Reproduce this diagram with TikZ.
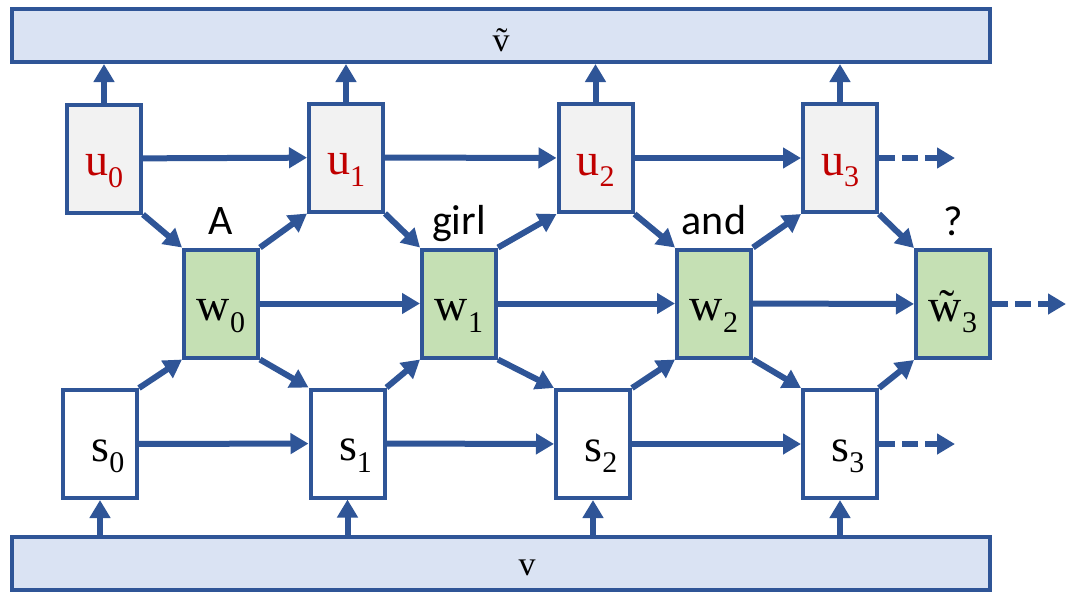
\documentclass[tikz,border=0pt]{standalone}
\usepackage{fontspec}
\setmainfont{Liberation Serif}
\newfontfamily\wordfont{Carlito}
\usetikzlibrary{arrows.meta, positioning}
\newlength{\w}
\setlength{\w}{37pt}
\newlength{\h}
\setlength{\h}{54pt}
\definecolor{linecolor}{RGB}{47,85,151}
\definecolor{barcolor}{RGB}{218,227,243}
\definecolor{ucolor}{RGB}{242,242,242}
\definecolor{wcolor}{RGB}{197,224,180}
\definecolor{ulabelcolor}{RGB}{192,0,0}
\newcommand{\lbl}[2]{#1\raisebox{-0.25em}{\fontsize{15}{15}\selectfont #2}}
\tikzset{bar/.style={draw=linecolor, fill=barcolor, line width=2pt, minimum width=489pt, minimum height=26.5pt}}
\tikzset{barlabel/.style={font=\fontsize{17}{19}\selectfont, inner sep=0pt}}
\tikzset{box/.style={draw=linecolor, line width=2pt, minimum width=\w, minimum height=\h, text height=19pt, text depth=2pt, inner sep=0pt, font=\fontsize{23}{26}\selectfont}}
\tikzset{ubox/.style={box, fill=ucolor, text=ulabelcolor}}
\tikzset{wbox/.style={box, fill=wcolor}}
\tikzset{sbox/.style={box, fill=white, execute at begin node={\hspace*{8pt}}}}
\tikzset{word/.style={font=\wordfont\fontsize{21}{24}\selectfont, text height=1.4ex, text depth=.25ex, inner sep=2pt}}
\tikzset{flow/.style={draw=linecolor, line width=3pt, -{Triangle[length=9pt,width=10pt]}}}
\tikzset{flowdash/.style={flow, dash pattern=on 8pt off 3.5pt}}

\begin{document}
\begin{tikzpicture}[x=0.5pt, y=-0.5pt]
	\useasboundingbox (0,0) rectangle (1067,591);
	
	%%% NODES %%%
	
	% BARS
	\node[bar] at (501,35.5) (vtop) {};
	\node[barlabel] at (501,40) (vtoplabel) {\~{v}};
	\node[bar] at (501,563.5) (vbot) {};
	\node[barlabel] at (527,568) (vbotlabel) {v};
	
	% TOP ROW
	\node[ubox] at (104,158.5) (u0) {\lbl{u}{0}};
	\node[ubox] at (346,157.5) (u1) {\lbl{u}{1}};
	\node[ubox] at (595.5,158) (u2) {\lbl{u}{2}};
	\node[ubox] at (840,158) (u3) {\lbl{u}{3}};
	
	% WORDS
	\node[wbox] at (221,303.5) (w0) {\lbl{w}{0}};
	\node[wbox] at (459,303.5) (w1) {\lbl{w}{1}};
	\node[wbox] at (714,303.5) (w2) {\lbl{w}{2}};
	\node[wbox] at (953,304) (w3) {\lbl{\~{w}}{3}};
	
	\node[word, above=3pt of w0] (word0) {A};
	\node[word, above=3pt of w1] (word1) {girl};
	\node[word, above=3pt of w2] (word2) {and};
	\node[word, above=3pt of w3] (word3) {?};
	
	% BOTTOM ROW
	\node[sbox] at (100,444) (s0) {\lbl{s}{0}};
	\node[sbox] at (347.5,443.5) (s1) {\lbl{s}{1}};
	\node[sbox] at (593,444) (s2) {\lbl{s}{2}};
	\node[sbox] at (840,444) (s3) {\lbl{s}{3}};
	
	%%% EXTRA ARROW NODES %%%
	\node[coordinate, right=38pt of u3] (e0) {};
	\node[coordinate, right=37pt of w3] (e1) {};
	\node[coordinate, right=38pt of s3] (e2) {};
	
	%%% ARROWS %%%
	
	% UP INTO V TILDE
	\foreach \i in {0,...,3}
		\draw[flow] (u\i) -- (u\i |- vtop.south);
	
	% UP FROM V
	\foreach \i in {0,...,3}
		\draw[flow] (vbot.north -| s\i) -- (s\i);
	
	% ALONG THE ROWS
	\draw[flow] (u0) -- (u1);
	\draw[flow] (u1) -- (u2);
	\draw[flow] (u2) -- (u3);
	\draw[flow] (w0) -- (w1);
	\draw[flow] (w1) -- (w2);
	\draw[flow] (w2) -- (w3);
	\draw[flow] (s0) -- (s1);
	\draw[flow] (s1) -- (s2);
	\draw[flow] (s2) -- (s3);
	
	% DIAGONALS
	\draw[flow] (u0.south east) -- (w0.north west);
	\draw[flow] (u1.south east) -- (w1.north west);
	\draw[flow] (u2.south east) -- (w2.north west);
	\draw[flow] (u3.south east) -- (w3.north west);
	\draw[flow] (s0.north east) -- (w0.south west);
	\draw[flow] (s1.north east) -- (w1.south west);
	\draw[flow] (s2.north east) -- (w2.south west);
	\draw[flow] (s3.north east) -- (w3.south west);
	\draw[flow] (w0.north east) -- (u1.south west);
	\draw[flow] (w1.north east) -- (u2.south west);
	\draw[flow] (w2.north east) -- (u3.south west);
	\draw[flow] (w0.south east) -- (s1.north west);
	\draw[flow] (w1.south east) -- (s2.north west);
	\draw[flow] (w2.south east) -- (s3.north west);
	
	% ONWARD
	\draw[flowdash] (u3) -- (e0);
	\draw[flowdash] (w3) -- (e1);
	\draw[flowdash] (s3) -- (e2);
	
\end{tikzpicture}
\end{document}
